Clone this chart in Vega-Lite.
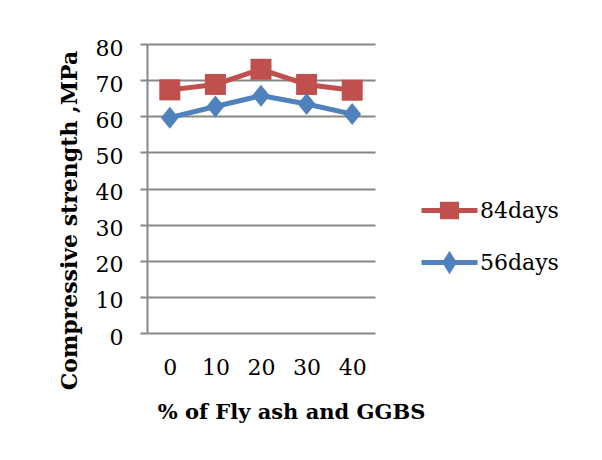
{
  "$schema": "https://vega.github.io/schema/vega-lite/v6.json",
  "width": 228,
  "height": 289,
  "autosize": {"type": "none"},
  "padding": {"left": 147, "top": 44, "right": 227, "bottom": 127},
  "background": "white",
  "config": {
    "view": {"stroke": null},
    "font": "DejaVu Serif",
    "legend": {
      "title": null,
      "orient": "none",
      "legendX": 272,
      "legendY": 136,
      "symbolSize": 3136,
      "symbolStrokeWidth": 5,
      "labelFont": "DejaVu Serif",
      "labelFontSize": 22,
      "labelColor": "black",
      "labelOffset": 0,
      "rowPadding": 5,
      "padding": 0
    }
  },
  "data": {
    "values": [
      {"pct": 0, "series": "84days", "value": 67.3},
      {"pct": 10, "series": "84days", "value": 68.8},
      {"pct": 20, "series": "84days", "value": 73.0},
      {"pct": 30, "series": "84days", "value": 68.8},
      {"pct": 40, "series": "84days", "value": 67.2},
      {"pct": 0, "series": "56days", "value": 59.6},
      {"pct": 10, "series": "56days", "value": 62.7},
      {"pct": 20, "series": "56days", "value": 65.7},
      {"pct": 30, "series": "56days", "value": 63.4},
      {"pct": 40, "series": "56days", "value": 60.6}
    ]
  },
  "encoding": {
    "x": {
      "field": "pct",
      "type": "ordinal",
      "scale": {"type": "point", "padding": 0.5},
      "axis": {
        "title": "% of Fly ash and GGBS",
        "labelAngle": 0,
        "labelFont": "DejaVu Serif",
        "labelFontSize": 22,
        "labelColor": "black",
        "labelPadding": 24,
        "domain": false,
        "ticks": false,
        "titleFont": "DejaVu Serif",
        "titleFontWeight": "bold",
        "titleFontSize": 21,
        "titleColor": "black",
        "titleBaseline": "alphabetic",
        "titleX": 144,
        "titleY": 85
      }
    },
    "y": {
      "field": "value",
      "type": "quantitative",
      "scale": {"domain": [0, 80]},
      "axis": {
        "title": "Compressive strength ,MPa",
        "values": [0, 10, 20, 30, 40, 50, 60, 70, 80],
        "grid": true,
        "gridColor": "#878787",
        "gridWidth": 2,
        "domainColor": "#878787",
        "domainWidth": 2,
        "tickColor": "#878787",
        "tickWidth": 2,
        "tickSize": 7,
        "labelFont": "DejaVu Serif",
        "labelFontSize": 22,
        "labelColor": "black",
        "labelPadding": 17,
        "labelOffset": 4,
        "titleFont": "DejaVu Serif",
        "titleFontWeight": "bold",
        "titleFontSize": 22,
        "titleColor": "black",
        "titleBaseline": "alphabetic",
        "titleAngle": 270,
        "titleAlign": "center",
        "titleX": -71,
        "titleY": 176
      }
    }
  },
  "layer": [
    {
      "mark": {"type": "line", "strokeWidth": 5},
      "encoding": {
        "stroke": {
          "field": "series",
          "type": "nominal",
          "scale": {"domain": ["84days", "56days"], "range": ["#C0504D", "#4F81BD"]},
          "legend": null
        }
      }
    },
    {
      "mark": {"type": "point", "filled": true, "opacity": 1, "size": 441, "strokeWidth": 0},
      "encoding": {
        "fill": {
          "field": "series",
          "type": "nominal",
          "scale": {"domain": ["84days", "56days"], "range": ["#C0504D", "#4F81BD"]},
          "legend": null
        },
        "shape": {
          "field": "series",
          "type": "nominal",
          "scale": {"domain": ["84days", "56days"], "range": ["M-1,-1H1V1H-1Z", "M0,-1.05L0.85,0L0,1.05L-0.85,0Z"]},
          "legend": null
        }
      }
    },
    {
      "transform": [{"filter": {"field": "series", "equal": "none"}}],
      "mark": {"type": "point", "filled": true, "opacity": 1, "size": 441, "strokeWidth": 5},
      "encoding": {
        "fill": {
          "field": "series",
          "type": "nominal",
          "scale": {"domain": ["84days", "56days"], "range": ["#C0504D", "#4F81BD"]},
          "legend": {"title": null}
        },
        "stroke": {
          "field": "series",
          "type": "nominal",
          "scale": {"domain": ["84days", "56days"], "range": ["#C0504D", "#4F81BD"]},
          "legend": {"title": null}
        },
        "shape": {
          "field": "series",
          "type": "nominal",
          "scale": {"domain": ["84days", "56days"], "range": ["M-1,0H1M-0.25,-0.22H0.25V0.22H-0.25Z", "M-1,0H1M0,-0.25L0.16,0L0,0.25L-0.16,0Z"]},
          "legend": {"title": null}
        }
      }
    }
  ],
  "resolve": {
    "scale": {"shape": "independent"},
    "legend": {"fill": "independent", "stroke": "independent", "shape": "independent"}
  }
}
